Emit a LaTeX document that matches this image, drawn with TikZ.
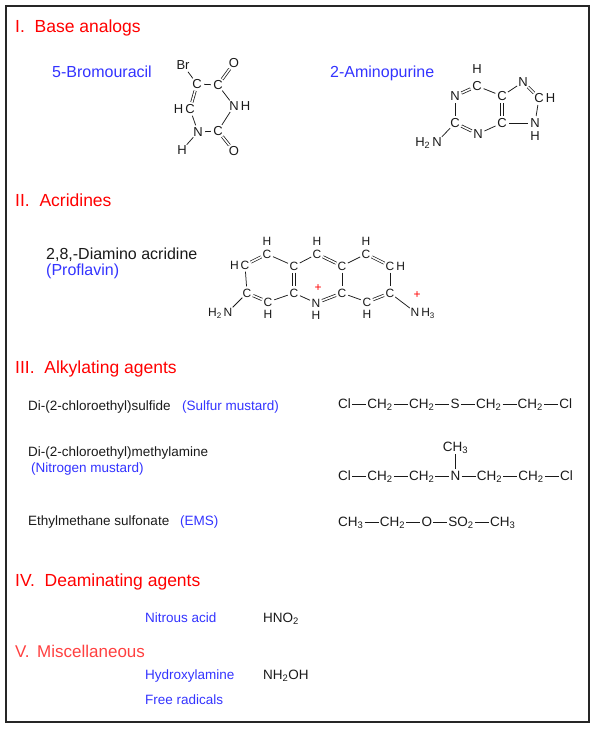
\documentclass[tikz,border=0pt]{standalone}
\usepackage{fontspec}
\setmainfont{Liberation Sans}
\usetikzlibrary{positioning}
\definecolor{headred}{HTML}{FF0000}
\definecolor{nameblue}{HTML}{3333FF}
\definecolor{inkgray}{HTML}{1A1A1A}

\begin{document}
\begin{tikzpicture}
[x=1pt,y=-1pt,%
  headdecorate/.style={anchor=base west,inner sep=0pt,text=headred,font=\fontsize{17.5}{20}\selectfont},%
  namedecorate/.style={anchor=base west,inner sep=0pt,text=nameblue,font=\fontsize{16}{19}\selectfont},%
  textdecorate/.style={anchor=base west,inner sep=0pt,text=inkgray,font=\fontsize{13.5}{16}\selectfont},%
  smalldecorate/.style={textdecorate,text=nameblue},%
  atomdecorate/.style={shape=circle,inner sep=0.2pt,text=inkgray,font=\fontsize{13}{15}\selectfont,text height=9.3pt,text depth=0pt},%
  ringdecorate/.style={atomdecorate,font=\fontsize{12}{14}\selectfont,text height=8.6pt},%
  hydrodecorate/.style={shape=rectangle,inner sep=0pt},%
  chargedecorate/.style={inner sep=0pt,text=red,font=\fontsize{12}{13}\selectfont},%
  groupdecorate/.style={inner sep=1pt,text=inkgray,font=\fontsize{13.5}{15}\selectfont,text height=10.8pt,text depth=1.2pt},%
  linedecorate/.style={-,line width=0.75pt,draw=inkgray},%
  doubledecorate/.style={linedecorate,double=white,double distance=1.6pt},%
  node distance=14pt]
\useasboundingbox (0,0) rectangle (600,733);
\draw[line width=1.3pt,draw=black!85] (6,6) rectangle (589,722);

%% headings
\node (head1) at (15,33) [headdecorate] {I.~~Base analogs};
\node (head2) at (15,206) [headdecorate] {II.~~Acridines};
\node (head3) at (15,373) [headdecorate] {III.~~Alkylating agents};
\node (head4) at (15,586) [headdecorate] {IV.~~Deaminating agents};
\node (head5) at (15,657) [headdecorate,text=headred!75,font=\fontsize{17}{20}\selectfont] {V.~\,Miscellaneous};

%% I. base analogs
\node (bu-name) at (52,78) [namedecorate] {5-Bromouracil};
\node (ap-name) at (330,78) [namedecorate] {2-Aminopurine};

%% 5-bromouracil
\foreach \nodename/\x/\y/\atom in {
bu-br/183/65/Br, bu-c5/197/84/C, bu-c4/218/85/C, bu-o4/234/63/O,
bu-n3/234/106/N, bu-c2/218/131/C, bu-o2/234/151/O, bu-n1/198/132/N,
bu-c6/190/109/C, bu-h1/182/150/H}
{
  \node (\nodename) at (\x,\y) [atomdecorate] {\atom};
}
\node (bu-h3) [atomdecorate,hydrodecorate,right=-0.5pt of bu-n3] {H};
\node (bu-h6) [atomdecorate,hydrodecorate,left=-0.5pt of bu-c6] {H};
\path
\foreach \startnode/\endnode in {
bu-br/bu-c5, bu-c5/bu-c4, bu-c4/bu-n3, bu-n3/bu-c2, bu-c2/bu-n1, bu-n1/bu-c6, bu-n1/bu-h1}
{
  (\startnode) edge[linedecorate] (\endnode)
};
\path
\foreach \startnode/\endnode in {bu-c5/bu-c6, bu-c4/bu-o4, bu-c2/bu-o2}
{
  (\startnode) edge[doubledecorate] (\endnode)
};

%% 2-aminopurine
\foreach \nodename/\x/\y/\atom in {
ap-h6/477/69/H, ap-c6/477/86/C, ap-n1/455/96/N, ap-c2/455/123/C,
ap-n2/437/142/N, ap-n3/478/134/N, ap-c4/502/123/C, ap-c5/502/96/C,
ap-n7/523/82/N, ap-c8/539/98/C, ap-n9/535/123/N, ap-h9/535/136/H}
{
  \node (\nodename) at (\x,\y) [atomdecorate] {\atom};
}
\node (ap-h8) [atomdecorate,hydrodecorate,right=-0.5pt of ap-c8] {H};
\node (ap-h2) [atomdecorate,hydrodecorate,left=-0.5pt of ap-n2] {H\textsubscript{2}};
\path
\foreach \startnode/\endnode in {
ap-c6/ap-c5, ap-c5/ap-n7, ap-c8/ap-n9, ap-n9/ap-c4, ap-c4/ap-n3, ap-c2/ap-n1, ap-c2/ap-n2}
{
  (\startnode) edge[linedecorate] (\endnode)
};
\path
\foreach \startnode/\endnode in {ap-n1/ap-c6, ap-c5/ap-c4, ap-n7/ap-c8, ap-n3/ap-c2}
{
  (\startnode) edge[doubledecorate] (\endnode)
};

%% II. acridines
\node (pf-name) at (46,259) [namedecorate,text=inkgray] {2,8,-Diamino acridine};
\node (pf-alias) at (46,275) [namedecorate] {(Proflavin)};

%% proflavin
\foreach \nodename/\x/\y/\atom in {
pf-h1/267/241/H, pf-h2/317/241/H, pf-h3/366/241/H,
pf-c1/267/254/C, pf-c2/317/254/C, pf-c3/366/254/C,
pf-c4/245/265/C, pf-c5/294/266/C, pf-c6/342/266/C, pf-c7/390/266/C,
pf-c8/247/293/C, pf-c9/294/293/C, pf-c10/342/293/C, pf-c11/390/293/C,
pf-c12/268/302/C, pf-n/316/303/N, pf-c13/367/302/C,
pf-h12/268/314/H, pf-h10/316/315/H, pf-h13/367/314/H,
pf-nl/228/312/N, pf-nr/415/312/N}
{
  \node (\nodename) at (\x,\y) [ringdecorate] {\atom};
}
\node (pf-h4) [ringdecorate,hydrodecorate,left=-0.5pt of pf-c4] {H};
\node (pf-h7) [ringdecorate,hydrodecorate,right=-0.5pt of pf-c7] {H};
\node (pf-hl) [ringdecorate,hydrodecorate,left=-0.5pt of pf-nl] {H\textsubscript{2}};
\node (pf-hr) [ringdecorate,hydrodecorate,right=-0.5pt of pf-nr] {H\textsubscript{3}};
\node (pf-plusn) at (318,288) [chargedecorate] {+};
\node (pf-plusr) at (417,295) [chargedecorate] {+};
\path
\foreach \startnode/\endnode in {
pf-c4/pf-c8, pf-c1/pf-c5, pf-c9/pf-c12, pf-c5/pf-c2, pf-c6/pf-c10, pf-n/pf-c9,
pf-c6/pf-c3, pf-c7/pf-c11, pf-c13/pf-c10, pf-c8/pf-nl, pf-c11/pf-nr}
{
  (\startnode) edge[linedecorate] (\endnode)
};
\path
\foreach \startnode/\endnode in {
pf-c4/pf-c1, pf-c5/pf-c9, pf-c12/pf-c8, pf-c2/pf-c6, pf-c10/pf-n, pf-c3/pf-c7, pf-c11/pf-c13}
{
  (\startnode) edge[doubledecorate] (\endnode)
};

%% III. alkylating agents
\node (sm-name) at (28,410) [textdecorate] {Di-(2-chloroethyl)sulfide};
\node (sm-alias) at (182,410) [smalldecorate] {(Sulfur mustard)};
\node (nm-name) at (28,456) [textdecorate] {Di-(2-chloroethyl)methylamine};
\node (nm-alias) at (31,472) [smalldecorate] {(Nitrogen mustard)};
\node (ems-name) at (28,525.5) [textdecorate] {Ethylmethane sulfonate};
\node (ems-alias) at (180,525.5) [smalldecorate] {(EMS)};

%% sulfur mustard
\node (sm1) at (337,404) [groupdecorate,anchor=west] {Cl};
\foreach \nodename/\prevname/\group in {
sm2/sm1/{CH\textsubscript{2}}, sm3/sm2/{CH\textsubscript{2}}, sm4/sm3/S,
sm5/sm4/{CH\textsubscript{2}}, sm6/sm5/{CH\textsubscript{2}}, sm7/sm6/Cl}
{
  \node (\nodename) [groupdecorate,right=of \prevname] {\group};
  \draw[linedecorate] (\prevname) -- (\nodename);
}

%% nitrogen mustard
\node (nm1) at (337,476) [groupdecorate,anchor=west] {Cl};
\foreach \nodename/\prevname/\group in {
nm2/nm1/{CH\textsubscript{2}}, nm3/nm2/{CH\textsubscript{2}}, nm4/nm3/N,
nm5/nm4/{CH\textsubscript{2}}, nm6/nm5/{CH\textsubscript{2}}, nm7/nm6/Cl}
{
  \node (\nodename) [groupdecorate,right=of \prevname] {\group};
  \draw[linedecorate] (\prevname) -- (\nodename);
}
\node (nm8) [groupdecorate,above=15pt of nm4] {CH\textsubscript{3}};
\draw[linedecorate] (nm4) -- (nm8);

%% ethyl methanesulfonate
\node (ems1) at (337,522) [groupdecorate,anchor=west] {CH\textsubscript{3}};
\foreach \nodename/\prevname/\group in {
ems2/ems1/{CH\textsubscript{2}}, ems3/ems2/O, ems4/ems3/{SO\textsubscript{2}}, ems5/ems4/{CH\textsubscript{3}}}
{
  \node (\nodename) [groupdecorate,right=of \prevname] {\group};
  \draw[linedecorate] (\prevname) -- (\nodename);
}

%% IV. deaminating agents, V. miscellaneous
\node (na-name) at (145,622) [smalldecorate] {Nitrous acid};
\node (na-formula) at (263,622) [textdecorate] {HNO\textsubscript{2}};
\node (ha-name) at (145,679) [smalldecorate] {Hydroxylamine};
\node (ha-formula) at (263,679) [textdecorate] {NH\textsubscript{2}OH};
\node (fr-name) at (145,704) [smalldecorate] {Free radicals};
\end{tikzpicture}
\end{document}
